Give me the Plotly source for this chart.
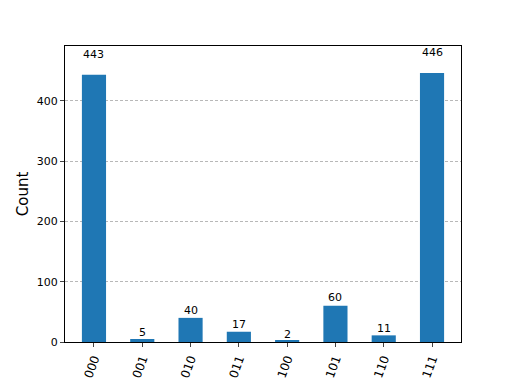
import plotly.graph_objects as go

states = ["000", "001", "010", "011", "100", "101", "110", "111"]
counts = [443, 5, 40, 17, 2, 60, 11, 446]
y_ticks = [0, 100, 200, 300, 400]

xs = list(range(len(states)))
fig = go.Figure()
fig.add_trace(go.Bar(
    x=xs, y=counts, width=0.5,
    marker=dict(color="#1f77b4", line=dict(width=0)),
))
for x, c in zip(xs, counts):
    fig.add_annotation(x=x, y=1.05 * c, text=str(c), showarrow=False,
                       yanchor="bottom", xanchor="center", yshift=-2,
                       font=dict(size=11, color="black", family="DejaVu Sans"))
fig.update_layout(
    width=512, height=384,
    margin=dict(l=57, r=59, t=38, b=50),
    paper_bgcolor="white", plot_bgcolor="white",
    font=dict(family="DejaVu Sans", color="black"),
    showlegend=False,
)
fig.update_xaxes(
    range=[-0.6, 7.6], tickmode="array", tickvals=xs,
    ticktext=states, tickangle=-70, ticks="outside", ticklen=4,
    tickfont=dict(size=12), showline=True, linecolor="black", linewidth=1,
    mirror=True, showgrid=False, zeroline=False, automargin=False,
)
fig.update_yaxes(
    range=[0, 490.6], tickmode="array", tickvals=y_ticks,
    ticks="outside", ticklen=4, tickfont=dict(size=11),
    showline=True, linecolor="black", linewidth=1, mirror=True,
    showgrid=True, gridcolor="#b8b8b8", griddash="3px,2px", gridwidth=0.6,
    zeroline=False, automargin=False,
    title=dict(text="Count", font=dict(size=15), standoff=4),
)
fig.write_html("out.html")
